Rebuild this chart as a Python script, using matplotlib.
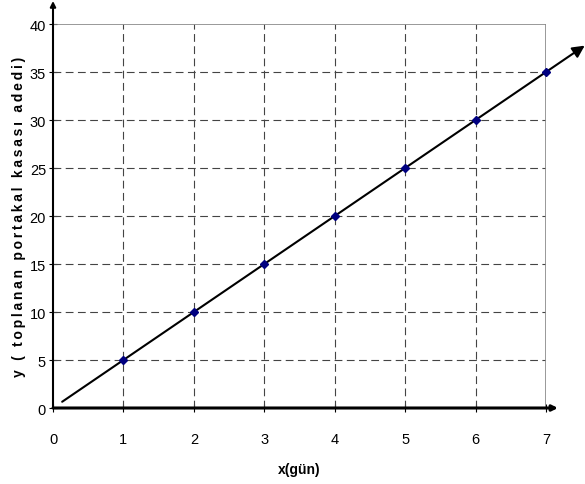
import matplotlib.pyplot as plt

plt.rcParams['font.family'] = ['Liberation Sans Narrow', 'Liberation Sans', 'DejaVu Sans']

# data
days = [1, 2, 3, 4, 5, 6, 7]
boxes = [5, 10, 15, 20, 25, 30, 35]
line_x = [0.13, 7.55]
line_y = [0.65, 37.75]
x_ticks = [0, 1, 2, 3, 4, 5, 6, 7]
y_ticks = [0, 5, 10, 15, 20, 25, 30, 35, 40]

fig = plt.figure(figsize=(5.85, 4.85), dpi=100)
ax = fig.add_axes([0.0906, 0.1567, 0.8427, 0.7917])
ax.set_xlim(0, 7)
ax.set_ylim(0, 40)

# grid
for x in x_ticks[1:-1]:
    ax.plot([x, x], [0, 40], color='#444444', lw=0.8, ls=(0, (7, 4)))
for y in y_ticks[1:-1]:
    ax.plot([0, 7], [y, y], color='#444444', lw=0.8, ls=(0, (7, 4)))
ax.plot([0, 7], [40, 40], color='#888888', lw=1.2)
ax.plot([7, 7], [0, 40], color='#888888', lw=1.2)

for s in ax.spines.values():
    s.set_visible(False)

# axes with arrows
ax.annotate('', xy=(0, 42.4), xytext=(0, 0), xycoords='data',
            arrowprops=dict(arrowstyle='-|>', color='black', lw=1.5,
                            mutation_scale=8, shrinkA=0, shrinkB=0),
            annotation_clip=False)
ax.annotate('', xy=(7.17, 0), xytext=(0, 0),
            arrowprops=dict(arrowstyle='-|>', color='black', lw=2.2,
                            mutation_scale=8, shrinkA=0, shrinkB=0),
            annotation_clip=False)

# line with arrow
ax.annotate('', xy=(line_x[1], line_y[1]), xytext=(line_x[0], line_y[0]),
            arrowprops=dict(arrowstyle='-|>', color='black', lw=1.5,
                            mutation_scale=18, shrinkA=0, shrinkB=0),
            annotation_clip=False)

ax.plot(days, boxes, 'D', color='#000080', ms=4, zorder=5, clip_on=False)

ax.set_xticks(x_ticks)
ax.set_yticks(y_ticks)
ax.tick_params(axis='x', direction='inout', length=6, pad=14, labelsize=10.5)
ax.tick_params(axis='y', direction='inout', length=6, pad=2, labelsize=10.5)

ylab = '\u2009'.join('y ( toplanan portakal kasası adedi)')
ax.set_ylabel(ylab, fontweight='bold', fontsize=10, labelpad=3,
              family=['Liberation Sans', 'DejaVu Sans'])
ax.set_xlabel('x(gün)', fontweight='bold', fontsize=10, labelpad=12)

fig.savefig('out.png')
